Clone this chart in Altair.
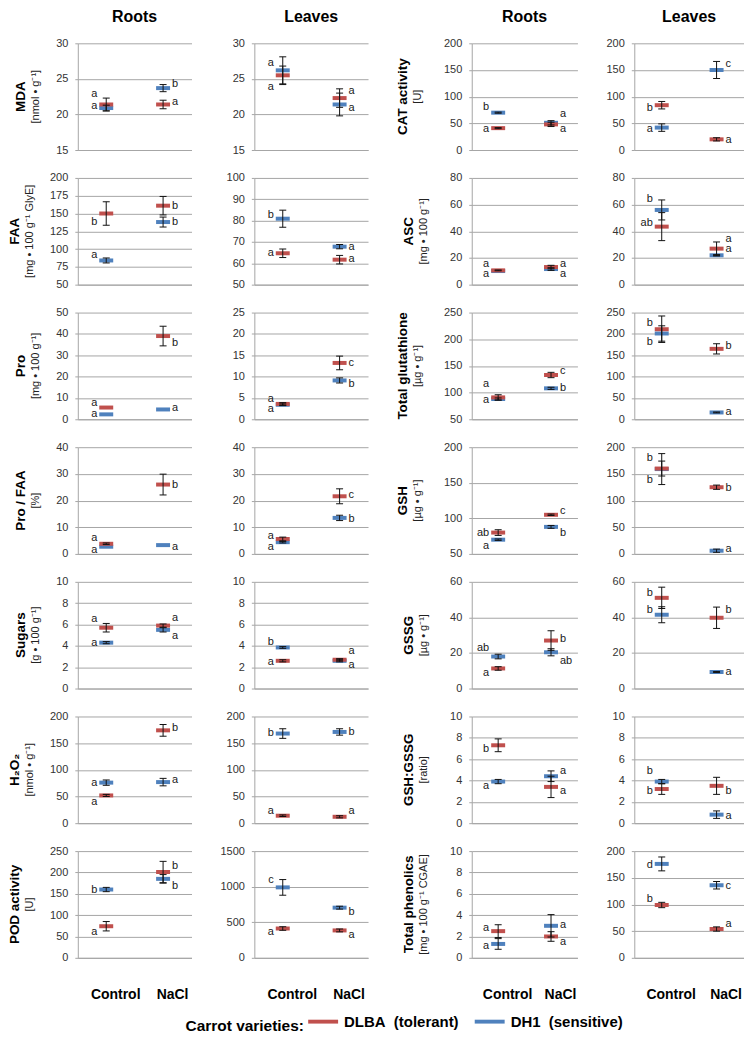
import altair as alt
import pandas as pd

FONT = "Liberation Sans"
RED = "#C0504D"
BLUE = "#4F81BD"

TREATMENTS = ["Control", "NaCl"]
VARIETIES = ["DLBA\u00a0 (tolerant)", "DH1\u00a0 (sensitive)"]
HEADERS = ["Roots", "Leaves", "Roots", "Leaves"]

# Row order inside every panel: DH1 Control, DH1 NaCl, DLBA Control, DLBA NaCl
ROW_VARIETY = [VARIETIES[1], VARIETIES[1], VARIETIES[0], VARIETIES[0]]
ROW_TREATMENT = ["Control", "NaCl", "Control", "NaCl"]

# ---- column 1: roots ----
MDA_ROOTS = dict(mean=[20.9, 23.7, 21.4, 21.4], sd=[0.4, 0.5, 0.9, 0.6],
                 letter=["a", "b", "a", "a"], letter_y=[21.2, 24.3, 22.9, 21.8], side=["L", "R", "L", "R"])
FAA_ROOTS = dict(mean=[84, 138, 150, 161], sd=[3.5, 7, 16.5, 13],
                 letter=["a", "b", "b", "b"], letter_y=[92, 138, 138, 161], side=["L", "R", "L", "R"])
PRO_ROOTS = dict(mean=[2.3, 4.6, 5.5, 39], sd=[0, 0, 0, 4.6],
                 letter=["a", "a", "a", "b"], letter_y=[2.3, 5.4, 7.5, 35.7], side=["L", "R", "L", "R"])
PROFAA_ROOTS = dict(mean=[2.7, 3.3, 3.8, 26.0], sd=[0, 0, 0.3, 3.9],
                    letter=["a", "a", "a", "b"], letter_y=[1.5, 2.7, 5.8, 26.0], side=["L", "R", "L", "R"])
SUGARS_ROOTS = dict(mean=[4.3, 5.5, 5.7, 5.9], sd=[0.1, 0.2, 0.4, 0.15],
                    letter=["a", "a", "a", "a"], letter_y=[4.3, 4.9, 6.5, 6.6], side=["L", "R", "L", "R"])
H2O2_ROOTS = dict(mean=[76, 77, 52, 174], sd=[5, 7, 2, 11],
                  letter=["a", "a", "a", "b"], letter_y=[76, 80, 40, 179], side=["L", "R", "L", "R"])
POD_ROOTS = dict(mean=[160, 185, 74, 201], sd=[5, 10, 11, 25],
                 letter=["b", "b", "a", "b"], letter_y=[160, 168, 60, 215], side=["L", "R", "L", "R"])

# ---- column 2: leaves ----
MDA_LEAVES = dict(mean=[26.2, 21.4, 25.5, 22.3], sd=[1.9, 1.6, 1.3, 1.3],
                  letter=["a", "a", "a", "a"], letter_y=[27.3, 20.9, 23.9, 23.3], side=["L", "R", "L", "R"])
FAA_LEAVES = dict(mean=[80.9, 67.8, 64.7, 61.7], sd=[4, 1, 2, 2],
                  letter=["b", "a", "a", "a"], letter_y=[82.8, 67.8, 65, 62], side=["L", "R", "L", "R"])
PRO_LEAVES = dict(mean=[3.4, 9.1, 3.6, 13.2], sd=[0.2, 0.6, 0.3, 1.6],
                  letter=["a", "b", "a", "c"], letter_y=[2.3, 8.2, 4.7, 13.3], side=["L", "R", "L", "R"])
PROFAA_LEAVES = dict(mean=[4.4, 13.5, 5.6, 21.6], sd=[0.3, 1.0, 0.7, 2.8],
                     letter=["a", "b", "a", "c"], letter_y=[2.6, 13.0, 6.8, 22.2], side=["L", "R", "L", "R"])
SUGARS_LEAVES = dict(mean=[3.85, 2.6, 2.6, 2.7], sd=[0.08, 0.1, 0.1, 0.1],
                     letter=["b", "a", "a", "a"], letter_y=[4.4, 2.25, 2.5, 3.5], side=["L", "R", "L", "R"])
H2O2_LEAVES = dict(mean=[168, 171, 14, 12], sd=[9, 6, 1.5, 2],
                   letter=["b", "b", "a", "a"], letter_y=[169, 171, 22, 22], side=["L", "R", "L", "R"])
POD_LEAVES = dict(mean=[990, 705, 412, 385], sd=[110, 20, 25, 20],
                  letter=["c", "b", "a", "a"], letter_y=[1090, 640, 356, 320], side=["L", "R", "L", "R"])

# ---- column 3: roots ----
CAT_ROOTS = dict(mean=[70, 51, 41, 48], sd=[1, 4, 1, 4],
                 letter=["b", "a", "a", "a"], letter_y=[80, 67, 39, 39], side=["L", "R", "L", "R"])
ASC_ROOTS = dict(mean=[10.2, 11.7, 10.7, 13.2], sd=[0, 1, 0.3, 1.3],
                 letter=["a", "a", "a", "a"], letter_y=[8.0, 8.0, 15.6, 15.6], side=["L", "R", "L", "R"])
TGLUT_ROOTS = dict(mean=[88, 108, 91, 133], sd=[2, 2, 5, 5],
                   letter=["a", "b", "a", "c"], letter_y=[86, 108, 117, 140], side=["L", "R", "L", "R"])
GSH_ROOTS = dict(mean=[70, 88, 80, 105], sd=[1, 2, 4, 1],
                 letter=["a", "b", "ab", "c"], letter_y=[61, 80, 80, 110], side=["L", "R", "L", "R"])
GSSG_ROOTS = dict(mean=[18, 20.4, 11.3, 27], sd=[1.3, 2, 1, 5.5],
                  letter=["ab", "ab", "a", "b"], letter_y=[22.8, 15.4, 9, 27.6], side=["L", "R", "L", "R"])
RATIO_ROOTS = dict(mean=[3.9, 4.4, 7.3, 3.4], sd=[0.2, 0.5, 0.6, 1.0],
                   letter=["a", "a", "b", "a"], letter_y=[3.5, 4.9, 6.95, 3.0], side=["L", "R", "L", "R"])
PHEN_ROOTS = dict(mean=[1.3, 3.0, 2.5, 2.0], sd=[0.5, 1.05, 0.6, 0.45],
                  letter=["a", "a", "a", "a"], letter_y=[1.1, 3.1, 2.8, 1.45], side=["L", "R", "L", "R"])

# ---- column 4: leaves ----
CAT_LEAVES = dict(mean=[42, 150, 84, 20], sd=[7, 16, 7, 3],
                  letter=["a", "c", "b", "a"], letter_y=[40, 162, 79, 19], side=["L", "R", "L", "R"])
ASC_LEAVES = dict(mean=[56, 22, 43.5, 27], sd=[7.5, 0.5, 10.5, 5],
                  letter=["b", "a", "ab", "a"], letter_y=[64, 34.5, 46, 27], side=["L", "R", "L", "R"])
TGLUT_LEAVES = dict(mean=[201, 16, 211, 165], sd=[18, 1, 31, 12],
                    letter=["b", "a", "b", "b"], letter_y=[182, 18, 226, 171], side=["L", "R", "L", "R"])
GSH_LEAVES = dict(mean=[159, 6, 160, 125], sd=[29, 3, 14, 4],
                  letter=["b", "a", "b", "b"], letter_y=[139, 9, 179, 123], side=["L", "R", "L", "R"])
GSSG_LEAVES = dict(mean=[41.5, 9.3, 51, 39.8], sd=[4.5, 0.3, 6, 6],
                   letter=["b", "a", "b", "b"], letter_y=[44.3, 9.3, 53.5, 44], side=["L", "R", "L", "R"])
RATIO_LEAVES = dict(mean=[3.9, 0.8, 3.2, 3.5], sd=[0.2, 0.35, 0.5, 0.8],
                    letter=["b", "a", "b", "b"], letter_y=[4.9, 0.7, 3.0, 3.0], side=["L", "R", "L", "R"])
PHEN_LEAVES = dict(mean=[176, 136, 99, 54], sd=[13, 7, 5, 4],
                   letter=["d", "c", "b", "a"], letter_y=[174, 134, 111, 63], side=["L", "R", "L", "R"])

LEFT_TITLES = [("MDA", "[nmol • g⁻¹]"), ("FAA", "[mg • 100 g⁻¹ GlyE]"), ("Pro", "[mg • 100 g⁻¹]"),
               ("Pro / FAA", "[%]"), ("Sugars", "[g • 100 g⁻¹]"), ("H₂O₂", "[nmol • g⁻¹]"),
               ("POD activity", "[U]")]
RIGHT_TITLES = [("CAT activity", "[U]"), ("ASC", "[mg • 100 g⁻¹]"), ("Total glutathione", "[µg • g⁻¹]"),
                ("GSH", "[µg • g⁻¹]"), ("GSSG", "[µg • g⁻¹]"), ("GSH:GSSG", "[ratio]"),
                ("Total phenolics", "[mg • 100 g⁻¹ CGAE]")]

COL1 = [MDA_ROOTS, FAA_ROOTS, PRO_ROOTS, PROFAA_ROOTS, SUGARS_ROOTS, H2O2_ROOTS, POD_ROOTS]
COL2 = [MDA_LEAVES, FAA_LEAVES, PRO_LEAVES, PROFAA_LEAVES, SUGARS_LEAVES, H2O2_LEAVES, POD_LEAVES]
COL3 = [CAT_ROOTS, ASC_ROOTS, TGLUT_ROOTS, GSH_ROOTS, GSSG_ROOTS, RATIO_ROOTS, PHEN_ROOTS]
COL4 = [CAT_LEAVES, ASC_LEAVES, TGLUT_LEAVES, GSH_LEAVES, GSSG_LEAVES, RATIO_LEAVES, PHEN_LEAVES]

# y-axis (min, max, step) per panel
AX1 = [(15, 30, 5), (50, 200, 25), (0, 50, 10), (0, 40, 10), (0, 10, 2), (0, 200, 50), (0, 250, 50)]
AX2 = [(15, 30, 5), (50, 100, 10), (0, 25, 5), (0, 40, 10), (0, 10, 2), (0, 200, 50), (0, 1500, 500)]
AX3 = [(0, 200, 50), (0, 80, 20), (50, 250, 50), (50, 200, 50), (0, 60, 20), (0, 10, 2), (0, 10, 2)]
AX4 = [(0, 200, 50), (0, 80, 20), (0, 250, 50), (0, 200, 50), (0, 60, 20), (0, 10, 2), (0, 200, 50)]

WIDTHS = [114, 114, 106, 110]
HEIGHT = 107
TITLE_OFFSETS = [15, None, 21, None]

LEGEND = alt.Legend(
    title="Carrot varieties:", orient="none", legendX=108, legendY=966,
    direction="horizontal", titleOrient="left", titleFont=FONT, titleFontSize=15.5,
    titleFontWeight="bold", titleColor="black", titlePadding=4,
    titleAnchor="middle", titleBaseline="top",
    labelFont=FONT, labelFontSize=15, labelFontWeight="bold", labelColor="black",
    labelOffset=6, columnPadding=16,
    symbolType="M-1,-0.13L1,-0.13L1,0.13L-1,0.13Z", symbolSize=900, symbolStrokeWidth=0,
    symbolOpacity=1,
)


def make_panel(rec, ax, width, title=None, offset=0, bottom=False, header=None):
    df = pd.DataFrame({
        "variety": ROW_VARIETY, "treatment": ROW_TREATMENT,
        "mean": rec["mean"], "sd": rec["sd"], "letter": rec["letter"],
        "ly": rec["letter_y"], "side": rec["side"],
    })
    df["lo"] = df["mean"] - df["sd"]
    df["hi"] = df["mean"] + df["sd"]
    lo, hi, step = ax
    yscale = alt.Scale(domain=[lo, hi], nice=False, zero=False)
    yaxis = alt.Axis(values=list(range(lo, hi + 1, step)), format="d", title=None, grid=True,
                     ticks=True, tickSize=3, labelPadding=7, domain=True)
    xaxis = alt.Axis(title=None, labels=bottom, ticks=False, grid=False, domain=True,
                     labelAngle=0, labelFontSize=14, labelFontWeight="bold", labelColor="black",
                     labelPadding=30, labelOffset=9)
    x = alt.X("treatment:N", scale=alt.Scale(domain=TREATMENTS, type="point", padding=0.5), axis=xaxis)

    def Y(field):
        return alt.Y(field, scale=yscale, axis=yaxis)

    base = alt.Chart(df)
    marks = base.mark_tick(size=14, thickness=4, opacity=1).encode(
        x=x, y=Y("mean:Q"),
        color=alt.Color("variety:N", scale=alt.Scale(domain=VARIETIES, range=[RED, BLUE]), legend=LEGEND),
    )
    eb = base.transform_filter("datum.sd > 0")
    rule = eb.mark_rule(color="#111", strokeWidth=1).encode(x=x, y=Y("lo:Q"), y2="hi:Q")
    cap_lo = eb.mark_tick(color="#111", size=7, thickness=1, opacity=1).encode(x=x, y=Y("lo:Q"))
    cap_hi = eb.mark_tick(color="#111", size=7, thickness=1, opacity=1).encode(x=x, y=Y("hi:Q"))
    txt_l = base.transform_filter("datum.side == 'L'").mark_text(
        align="right", baseline="middle", dx=-9, font=FONT, fontSize=11, color="#1a1a1a"
    ).encode(x=x, y=Y("ly:Q"), text="letter:N")
    txt_r = base.transform_filter("datum.side == 'R'").mark_text(
        align="left", baseline="middle", dx=9, font=FONT, fontSize=11, color="#1a1a1a"
    ).encode(x=x, y=Y("ly:Q"), text="letter:N")

    layers = [marks, rule, cap_lo, cap_hi, txt_l, txt_r]
    if header is not None:
        layers.append(alt.Chart(pd.DataFrame({"h": [header]})).mark_text(
            font=FONT, fontSize=16, fontWeight="bold", color="black",
            baseline="alphabetic", align="center"
        ).encode(text="h:N", x=alt.value(width / 2), y=alt.value(-21)))

    chart = alt.layer(*layers).properties(width=width, height=HEIGHT)
    if title is not None:
        chart = chart.properties(title=alt.TitleParams(
            text=title[0], subtitle=title[1], orient="left", anchor="middle", frame="group",
            font=FONT, fontSize=13.5, fontWeight="bold", color="black",
            subtitleFont=FONT, subtitleFontSize=11, subtitleColor="#222",
            subtitlePadding=2, offset=offset,
        ))
    return chart


cells = []
for r in range(7):
    bottom = r == 6
    hdr = (lambda i: HEADERS[i] if r == 0 else None)
    cells.append(make_panel(COL1[r], AX1[r], WIDTHS[0], LEFT_TITLES[r], TITLE_OFFSETS[0], bottom, hdr(0)))
    cells.append(make_panel(COL2[r], AX2[r], WIDTHS[1], None, 0, bottom, hdr(1)))
    cells.append(make_panel(COL3[r], AX3[r], WIDTHS[2], RIGHT_TITLES[r], TITLE_OFFSETS[2], bottom, hdr(2)))
    cells.append(make_panel(COL4[r], AX4[r], WIDTHS[3], None, 0, bottom, hdr(3)))

chart = alt.concat(
    *cells, columns=4, spacing={"row": 17, "column": 28}, align="each"
).properties(padding=0).configure_view(stroke=None).configure_axis(
    labelFont=FONT, labelFontSize=11, labelColor="#333",
    gridColor="#a6a6a6", domainColor="#a6a6a6", tickColor="#a6a6a6",
    gridWidth=1, domainWidth=1,
)

chart.save("out.html", embed_options={"renderer": "svg", "actions": False})
